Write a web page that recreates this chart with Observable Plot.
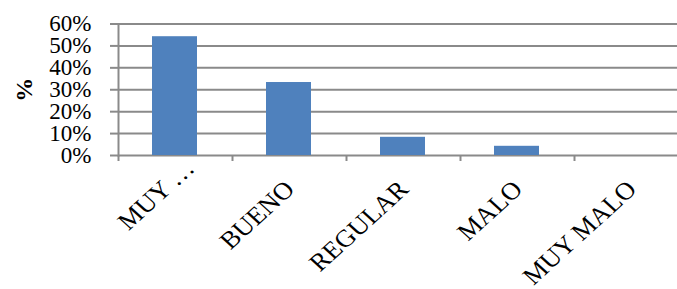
<!DOCTYPE html>
<html><head><meta charset="utf-8">
<script src="https://cdn.jsdelivr.net/npm/d3@7"></script>
<script src="https://cdn.jsdelivr.net/npm/@observablehq/plot@0.6"></script>
<style>
html,body{margin:0;padding:0;background:#fff;overflow:hidden}
#chart svg, #chart svg text{font-family:"Liberation Serif","Times New Roman",Times,serif !important}
</style>
</head><body><div id="chart"></div>
<script>
const categories = ["MUY …", "BUENO", "REGULAR", "MALO", "MUY MALO"];
const values = [0.542, 0.333, 0.083, 0.042, 0];
const yTicks = [0, 0.1, 0.2, 0.3, 0.4, 0.5, 0.6];
const yTitle = "%";

const data = categories.map((c, i) => ({cat: c, value: values[i]}));
const grid = "#8a8a8a";
const labelStretch = 1.1;

const chart = Plot.plot({
  width: 677, height: 289,
  marginLeft: 118, marginRight: -11, marginTop: 23.5, marginBottom: 134,
  style: {background: "#fff", overflow: "hidden", color: "#000"},
  x: {domain: categories, padding: 0},
  y: {domain: [0, 0.6]},
  marks: [
    Plot.ruleY(yTicks, {stroke: grid, strokeWidth: 2}),
    Plot.axisY({ticks: yTicks, tickFormat: d3.format(".0%"), tickSize: 8, tickPadding: 19, fontSize: 23, stroke: grid, strokeWidth: 2, label: null}),
    Plot.frame({anchor: "left", stroke: grid, strokeWidth: 2}),
    Plot.axisX({tickSize: 6, dx: -57, tickFormat: () => "", stroke: grid, strokeWidth: 2, label: null}),
    Plot.barY(data, {x: "cat", y: "value", fill: "#4F81BD", insetLeft: 34, insetRight: 35}),
    Plot.text(categories.slice(1), {x: d => d, frameAnchor: "bottom", rotate: -45, textAnchor: "end", lineAnchor: "top", dx: -7, dy: 23, fontSize: 24.5, fill: "#000"}),
    Plot.text(categories.slice(0, 1), {x: d => d, frameAnchor: "bottom", rotate: -45, textAnchor: "end", lineAnchor: "top", dx: 7, dy: 2, fontSize: 24.5, fill: "#000"}),
    Plot.text([yTitle], {frameAnchor: "left", textAnchor: "middle", lineAnchor: "middle", dx: -94, rotate: -90, fontSize: 24, fontWeight: "bold", fill: "#000"})
  ]
});
// the reference's slanted category labels are drawn slightly widened
chart.querySelectorAll("text").forEach(t => {
  const tr = t.getAttribute("transform");
  if (tr && tr.includes("rotate(-45)")) t.setAttribute("transform", tr.replace("rotate(-45)", `scale(${labelStretch},1) rotate(-45)`));
});
document.getElementById("chart").appendChild(chart);
</script>
</body></html>
